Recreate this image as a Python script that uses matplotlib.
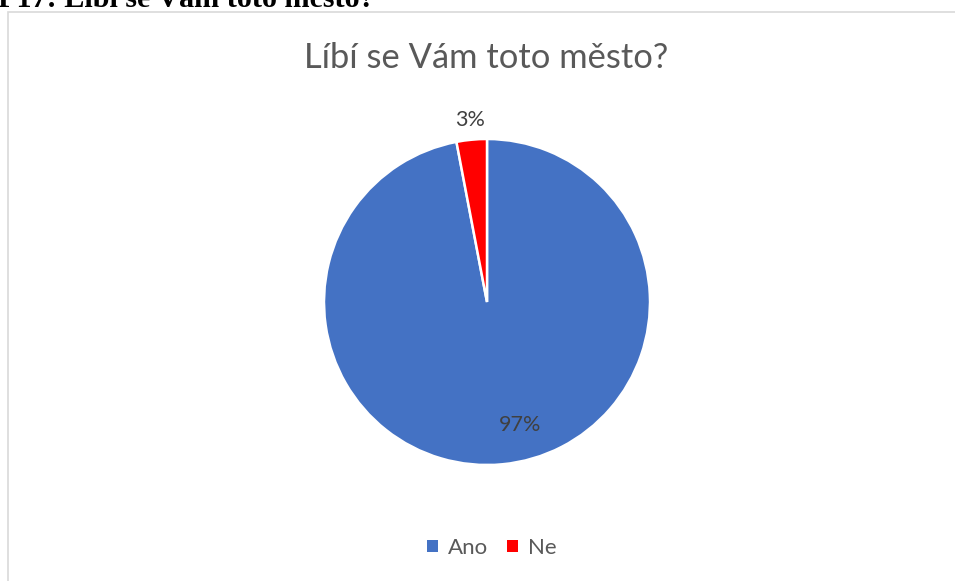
import numpy as np
import matplotlib
matplotlib.use("Agg")
import matplotlib.pyplot as plt
from matplotlib.patches import Rectangle

categories = ["Ano", "Ne"]
values = [97, 3]
colors = ["#4472C4", "#FF0000"]
title = "Líbí se Vám toto město?"
heading = "P17: Líbí se Vám toto město?"

W, H = 955, 581
fig = plt.figure(figsize=(W / 100, H / 100), dpi=100)
fig.patch.set_facecolor("white")

# clipped heading at very top (only lower part visible, as in the reference)
fig.text(-2 / W, (H - 7) / H, heading, ha="left", va="baseline",
         family="Liberation Serif", weight="bold", fontsize=21.7, color="black")

# chart frame
fig.add_artist(Rectangle((7.5 / W, -0.05), 1.0, (H - 12.5) / H + 0.05,
                         transform=fig.transFigure, fill=False,
                         edgecolor="#D9D9D9", linewidth=1.2))

fig.text(486 / W, (H - 58) / H, title, ha="center", va="center",
         family="Lato", fontsize=24.8, color="#595959")

cx, cy, r = 487, H - 302, 163
ax = fig.add_axes([(cx - r) / W, (cy - r) / H, 2 * r / W, 2 * r / H])
wedges, _ = ax.pie(values, colors=colors, startangle=90, counterclock=False,
                   radius=1.0, wedgeprops=dict(edgecolor="white", linewidth=1.8))
ax.set_xlim(-1, 1)
ax.set_ylim(-1, 1)
ax.set_aspect("equal")
ax.axis("off")

total = sum(values)
dists = [0.76, 1.12]
for w, v, d in zip(wedges, values, dists):
    ang = np.deg2rad((w.theta1 + w.theta2) / 2)
    x, y = d * np.cos(ang), d * np.sin(ang)
    if v == values[0]:
        x += 0.13
    ax.text(x, y, f"{round(100 * v / total)}%", ha="center", va="center",
            family="Lato", fontsize=15.5, color="#404040")

handles = [Rectangle((0, 0), 1, 1, facecolor=c) for c in colors]
fig.legend(handles, categories, loc="center", bbox_to_anchor=(492 / W, (H - 548) / H),
           ncol=2, frameon=False, handlelength=0.5, handleheight=0.5,
           handletextpad=0.45, columnspacing=0.85,
           prop=dict(family="Lato", size=16), labelcolor="#595959")

fig.savefig("out.png", dpi=100)
